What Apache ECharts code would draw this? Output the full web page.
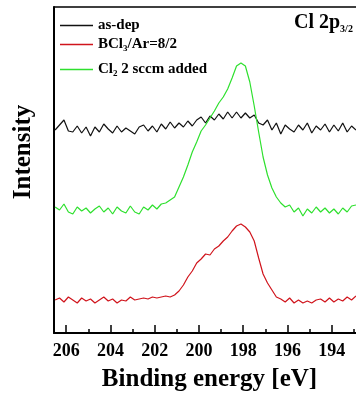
<!DOCTYPE html>
<html>
<head>
<meta charset="utf-8">
<script src="https://cdn.jsdelivr.net/npm/echarts@6/dist/echarts.min.js"></script>
<style>
  html, body { margin: 0; padding: 0; background: #fff; }
  #chart { width: 356px; height: 400px; }
</style>
</head>
<body>
<div id="chart"></div>
<script>
// binding energy grid (eV), 0.2 eV steps
const energy = [
  206.5, 206.3, 206.1, 205.9, 205.7, 205.5, 205.3, 205.1, 204.9, 204.7,
  204.5, 204.3, 204.1, 203.9, 203.7, 203.5, 203.3, 203.1, 202.9, 202.7,
  202.5, 202.3, 202.1, 201.9, 201.7, 201.5, 201.3, 201.1, 200.9, 200.7,
  200.5, 200.3, 200.1, 199.9, 199.7, 199.5, 199.3, 199.1, 198.9, 198.7,
  198.5, 198.3, 198.1, 197.9, 197.7, 197.5, 197.3, 197.1, 196.9, 196.7,
  196.5, 196.3, 196.1, 195.9, 195.7, 195.5, 195.3, 195.1, 194.9, 194.7,
  194.5, 194.3, 194.1, 193.9, 193.7, 193.5, 193.3, 193.1, 192.9
]

// intensities (arb. units, curves already offset)
const asDep = [
  203, 208, 213, 202, 201, 207, 200, 206, 197, 206,
  201, 209, 204, 200, 207, 201, 205, 202, 199, 206,
  208, 202, 207, 201, 209, 204, 211, 205, 210, 206,
  212, 207, 213, 216, 210, 217, 213, 219, 214, 221,
  215, 221, 215, 220, 215, 218, 210, 208, 213, 203,
  210, 199, 208, 204, 201, 208, 203, 210, 200, 207,
  203, 209, 201, 208, 202, 210, 201, 207, 203
]
const bcl3Ar = [
  33, 35, 31, 36, 33, 30, 35, 32, 34, 30,
  33, 36, 32, 34, 30, 33, 32, 36, 33, 34,
  35, 34, 36, 35, 36, 37, 36, 38, 42, 48,
  56, 62, 70, 74, 79, 78, 84, 87, 92, 96,
  102, 107, 109, 106, 101, 92, 75, 59, 50, 43,
  36, 34, 31, 35, 30, 33, 30, 32, 30, 33,
  34, 31, 35, 31, 34, 32, 36, 33, 37
]
const cl2Added = [
  126, 123, 129, 121, 119, 126, 122, 125, 120, 124,
  127, 121, 125, 119, 126, 122, 120, 127, 121, 119,
  126, 123, 128, 124, 129, 130, 133, 136, 146, 156,
  168, 181, 191, 202, 208, 215, 222, 230, 236, 244,
  255, 267, 270, 267, 251, 227, 201, 176, 158, 145,
  136, 130, 126, 128, 121, 125, 117, 124, 120, 126,
  121, 125, 120, 124, 119, 125, 121, 127, 128
]

const majorTicks = [194, 196, 198, 200, 202, 204, 206]
const minorTicks = [193, 195, 197, 199, 201, 203, 205]

const serif = '"Liberation Serif", "Times New Roman", serif'
const xMin = 192.9
const xMax = 206.55

const pair = (ys) => ys.map((v, i) => [energy[i], v])

const legendText = {
  color: '#000',
  rich: {
    t: { fontFamily: serif, fontWeight: 'bold', fontSize: 15, lineHeight: 16, color: '#000' },
    s: { fontFamily: serif, fontWeight: 'bold', fontSize: 9, lineHeight: 16, color: '#000', padding: [8, 0, 0, 0] }
  }
}
const legendBase = {
  left: 60,
  padding: 0,
  icon: 'rect',
  itemWidth: 33,
  itemHeight: 1.5,
  itemGap: 0,
  textStyle: legendText
}

const chart = echarts.init(document.getElementById('chart'))

chart.setOption({
  animation: false,
  backgroundColor: '#fff',
  title: {
    text: '{a|Cl 2p}{b|3/2}',
    left: 294,
    top: 12,
    padding: 0,
    textStyle: {
      rich: {
        a: { fontFamily: serif, fontWeight: 'bold', fontSize: 20, color: '#000' },
        b: { fontFamily: serif, fontWeight: 'bold', fontSize: 10, color: '#000', padding: [12, 0, 0, 0] }
      }
    }
  },
  legend: [
    { ...legendBase, top: 18, data: ['as-dep'], formatter: () => '{t|as-dep}' },
    { ...legendBase, top: 36, data: ['BCl3/Ar=8/2'], formatter: () => '{t|BCl}{s|3}{t|/Ar=8/2}' },
    { ...legendBase, top: 61, data: ['Cl2 2 sccm added'], formatter: () => '{t|Cl}{s|2}{t| 2 sccm added}' }
  ],
  grid: { left: 54, right: 0, top: 7, bottom: 67 },
  xAxis: [
    {
      type: 'value',
      min: xMin,
      max: xMax,
      inverse: true,
      position: 'bottom',
      axisLine: { lineStyle: { color: '#000', width: 2 } },
      axisTick: { inside: true, length: 8, customValues: majorTicks, lineStyle: { color: '#000', width: 1.5 } },
      axisLabel: {
        customValues: majorTicks,
        margin: 9,
        color: '#000',
        fontFamily: serif,
        fontWeight: 'bold',
        fontSize: 18
      },
      splitLine: { show: false },
      name: 'Binding energy [eV]',
      nameLocation: 'middle',
      nameGap: 34,
      nameTextStyle: {
        fontFamily: serif,
        fontWeight: 'bold',
        fontSize: 25,
        color: '#000',
        padding: [0, 0, 0, 9]
      }
    },
    {
      type: 'value',
      min: xMin,
      max: xMax,
      inverse: true,
      position: 'bottom',
      axisLine: { show: false },
      axisTick: { inside: true, length: 4, customValues: minorTicks, lineStyle: { color: '#000', width: 1.5 } },
      axisLabel: { show: false },
      splitLine: { show: false }
    },
    {
      type: 'value',
      min: xMin,
      max: xMax,
      inverse: true,
      position: 'top',
      axisLine: { lineStyle: { color: '#000', width: 1.5 } },
      axisTick: { show: false },
      axisLabel: { show: false },
      splitLine: { show: false }
    }
  ],
  yAxis: {
    type: 'value',
    min: 0,
    max: 326,
    axisLine: { show: true, lineStyle: { color: '#000', width: 2 } },
    axisTick: { show: false },
    axisLabel: { show: false },
    splitLine: { show: false },
    name: 'Intensity',
    nameLocation: 'middle',
    nameGap: 18,
    nameTextStyle: {
      fontFamily: serif,
      fontWeight: 'bold',
      fontSize: 25,
      color: '#000',
      padding: [0, 0, 0, 36]
    }
  },
  series: [
    {
      name: 'as-dep',
      type: 'line',
      data: pair(asDep),
      symbol: 'none',
      lineStyle: { width: 1.2, color: '#111' },
      itemStyle: { color: '#111' }
    },
    {
      name: 'BCl3/Ar=8/2',
      type: 'line',
      data: pair(bcl3Ar),
      symbol: 'none',
      lineStyle: { width: 1.2, color: '#d0141c' },
      itemStyle: { color: '#d0141c' }
    },
    {
      name: 'Cl2 2 sccm added',
      type: 'line',
      data: pair(cl2Added),
      symbol: 'none',
      lineStyle: { width: 1.2, color: '#2ee02e' },
      itemStyle: { color: '#2ee02e' }
    }
  ]
})
</script>
</body>
</html>
